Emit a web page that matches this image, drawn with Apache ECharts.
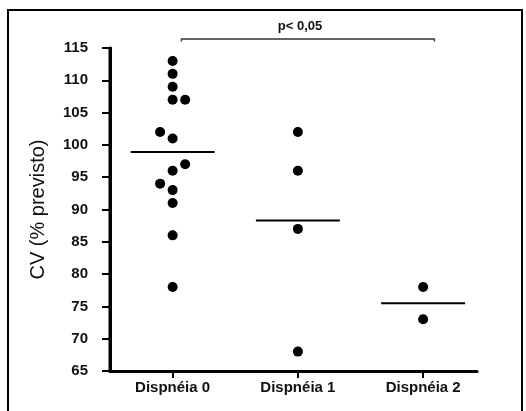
<!DOCTYPE html>
<html>
<head>
<meta charset="utf-8">
<script src="https://cdn.jsdelivr.net/npm/echarts@6/dist/echarts.min.js"></script>
<style>
  html, body { margin: 0; padding: 0; background: #fff; }
  #wrap { position: relative; width: 526px; height: 411px; overflow: hidden; }
  #frame { position: absolute; left: 7px; top: 9px; width: 512px; height: 420px; border: 2px solid #000; pointer-events: none; }
  #chart { position: absolute; left: 0; top: 0; width: 526px; height: 411px; }
</style>
</head>
<body>
<div id="wrap">
  <div id="frame"></div>
  <div id="chart"></div>
</div>
<script>
const categories = ['Dispnéia 0', 'Dispnéia 1', 'Dispnéia 2']

// valores de cada grupo e deslocamento horizontal (jitter) de cada ponto
const grupo0 = [113, 111, 109, 107, 107, 102, 101, 97, 96, 94, 93, 91, 86, 78]
const desloc0 = [0, 0, 0, 0, 0.1, -0.1, 0, 0.1, 0, -0.1, 0, 0, 0, 0]
const grupo1 = [102, 96, 87, 68]
const desloc1 = [0, 0, 0, 0]
const grupo2 = [78, 73]
const desloc2 = [0, 0]

const medias = [98.9, 88.3, 75.5]
const larguraMedia = 0.335

// colchete de significância entre Dispnéia 0 e Dispnéia 2 (posição em unidades do eixo)
const colchete = [[1.07, 116.0], [1.07, 116.4], [3.09, 116.4], [3.09, 116.0]]
const textoP = 'p< 0,05'

const font = '"Liberation Sans", Arial, sans-serif'

const xMin = 0.5
const xMax = 3.43
const yMin = 65
const yMax = 115

// categorias ficam em x = 1, 2, 3
const posicoes = categories.map((c, i) => i + 1)
const pontos = []
;[[grupo0, desloc0], [grupo1, desloc1], [grupo2, desloc2]].forEach(([vals, offs], i) => {
  vals.forEach((v, k) => pontos.push([posicoes[i] + offs[k], v]))
})

const chart = echarts.init(document.getElementById('chart'))

chart.setOption({
  animation: false,
  grid: { left: 110, right: 49, top: 48, bottom: 40 },
  xAxis: {
    type: 'value',
    min: xMin,
    max: xMax,
    splitLine: { show: false },
    axisLine: { show: true, onZero: false, lineStyle: { color: '#000', width: 3 } },
    axisTick: { show: true, customValues: posicoes, length: 7, lineStyle: { color: '#000', width: 2 } },
    axisLabel: {
      customValues: posicoes,
      formatter: v => categories[Math.round(v) - 1],
      color: '#111', fontFamily: font, fontWeight: 'bold', fontSize: 15, margin: 9
    }
  },
  yAxis: {
    type: 'value',
    min: yMin,
    max: yMax,
    interval: 5,
    name: 'CV (% previsto)',
    nameLocation: 'middle',
    nameGap: 62,
    nameTextStyle: { color: '#111', fontFamily: font, fontSize: 20 },
    splitLine: { show: false },
    axisLine: { show: true, onZero: false, lineStyle: { color: '#000', width: 3 } },
    axisTick: { show: true, length: 8, lineStyle: { color: '#000', width: 2 } },
    axisLabel: { color: '#111', fontFamily: font, fontWeight: 'bold', fontSize: 15, margin: 22 }
  },
  series: [
    {
      // eixo vertical desenhado como faixa a partir da escala
      type: 'custom',
      clip: false,
      silent: true,
      z: 5,
      data: [[xMin, yMin, yMax]],
      renderItem: (params, api) => {
        const base = api.coord([api.value(0), api.value(1)])
        const topo = api.coord([api.value(0), api.value(2)])
        return {
          type: 'rect',
          shape: { x: base[0] - 1.5, y: topo[1] - 1, width: 3, height: base[1] - topo[1] + 2.5 },
          style: { fill: '#000' }
        }
      }
    },
    {
      type: 'scatter',
      data: pontos,
      symbol: 'circle',
      symbolSize: 10,
      z: 3,
      itemStyle: { color: '#000', opacity: 1 }
    },
    {
      type: 'custom',
      data: medias.map((m, i) => [posicoes[i], m]),
      renderItem: (params, api) => {
        const x = api.value(0)
        const y = api.value(1)
        const a = api.coord([x - larguraMedia, y])
        const b = api.coord([x + larguraMedia, y])
        return {
          type: 'line',
          shape: { x1: a[0], y1: a[1], x2: b[0], y2: b[1] },
          style: { stroke: '#000', lineWidth: 2 }
        }
      }
    },
    {
      type: 'line',
      data: colchete,
      clip: false,
      symbol: 'none',
      lineStyle: { color: '#333', width: 1.5 }
    }
  ],
  graphic: [
    {
      type: 'text',
      x: 300,
      y: 26,
      style: {
        text: textoP,
        fill: '#111',
        font: 'bold 13px ' + font,
        textAlign: 'center',
        textVerticalAlign: 'middle'
      }
    }
  ]
})
</script>
</body>
</html>
